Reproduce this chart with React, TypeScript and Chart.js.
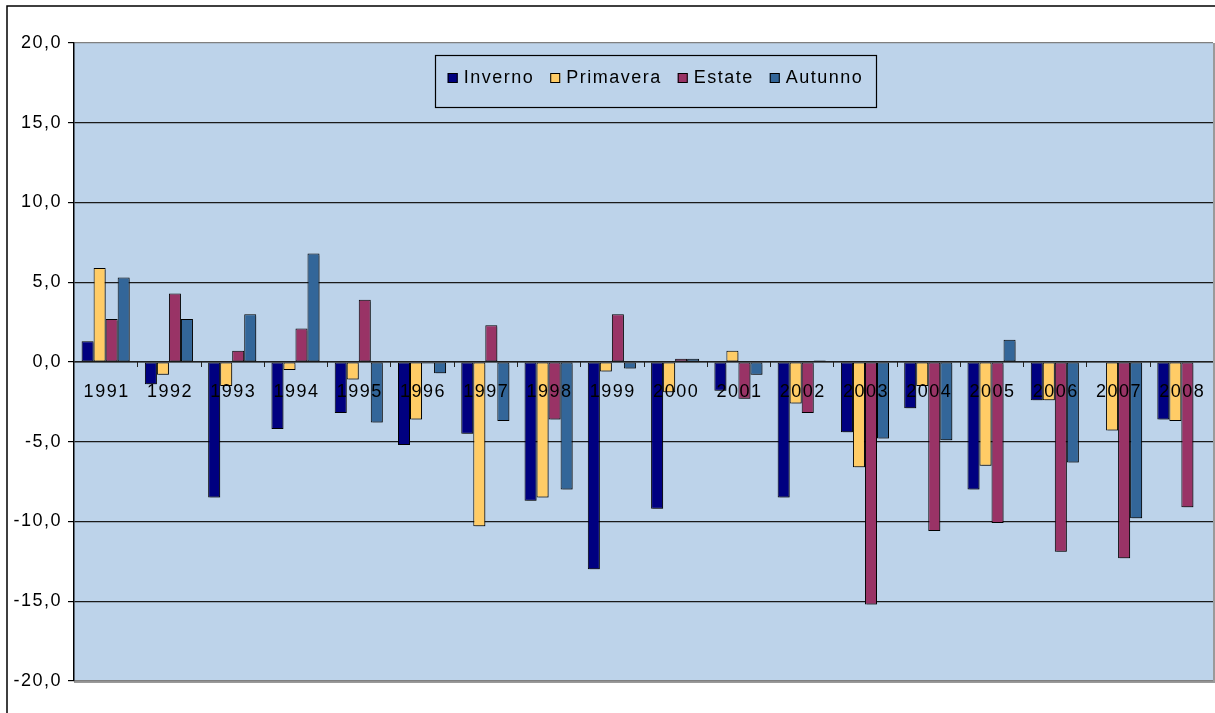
import React, { useEffect, useRef } from "react";
import { Chart, registerables } from "chart.js";

Chart.register(...registerables);

const years = ["1991","1992","1993","1994","1995","1996","1997","1998","1999","2000","2001","2002","2003","2004","2005","2006","2007","2008"];
const inverno = [1.3, -1.4, -8.5, -4.2, -3.2, -5.2, -4.5, -8.7, -13.0, -9.2, -1.8, -8.5, -4.4, -2.9, -8.0, -2.4, null, -3.6];
const primavera = [5.9, -0.8, -1.5, -0.5, -1.1, -3.6, -10.3, -8.5, -0.6, -1.9, 0.7, -2.6, -6.6, -1.5, -6.5, -2.4, -4.3, -3.7];
const estate = [2.7, 4.3, 0.7, 2.1, 3.9, -0.1, 2.3, -3.6, 3.0, 0.2, -2.3, -3.2, -15.2, -10.6, -10.1, -11.9, -12.3, -9.1];
const autunno = [5.3, 2.7, 3.0, 6.8, -3.8, -0.7, -3.7, -8.0, -0.4, 0.2, -0.8, 0.1, -4.8, -4.9, 1.4, -6.3, -9.8, null];
const seriesNames = ["Inverno", "Primavera", "Estate", "Autunno"];
const seriesColors = ["#000080", "#FFCC66", "#993366", "#336699"];
const yMin = -20;
const yMax = 20;
const yStep = 5;

const FONT = "'Liberation Sans', Arial, sans-serif";
const PLOT_BG = "#BDD3EA";

const framePlugin = {
  id: "framePlugin",
  beforeDraw(chart: any) {
    const { ctx, chartArea } = chart;
    ctx.save();
    ctx.fillStyle = "#ffffff";
    ctx.fillRect(0, 0, chart.width, chart.height);
    ctx.fillStyle = PLOT_BG;
    ctx.fillRect(chartArea.left, chartArea.top, chartArea.right - chartArea.left, chartArea.bottom - chartArea.top);
    ctx.strokeStyle = "#000";
    ctx.lineWidth = 1.5;
    ctx.beginPath();
    ctx.moveTo(7, chart.height + 5);
    ctx.lineTo(7, 6);
    ctx.lineTo(chart.width + 5, 6);
    ctx.stroke();
    ctx.strokeStyle = "#9a9a9a";
    ctx.lineWidth = 2;
    ctx.beginPath();
    ctx.moveTo(chartArea.right + 1, chartArea.top);
    ctx.lineTo(chartArea.right + 1, chartArea.bottom + 1);
    ctx.lineTo(chartArea.left, chartArea.bottom + 1);
    ctx.stroke();
    ctx.restore();
    (ctx as any).letterSpacing = "1.5px";
  },
  beforeDatasetsDraw(chart: any) {
    const ctx = chart.ctx;
    ctx.save();
    ctx.shadowColor = "rgba(0,0,0,0.28)";
    ctx.shadowOffsetX = 2;
    ctx.shadowOffsetY = 2;
    ctx.shadowBlur = 0;
  },
  afterDatasetsDraw(chart: any) {
    const ctx = chart.ctx;
    ctx.restore();
    const x = chart.scales.x;
    const y = chart.scales.y;
    const y0 = y.getPixelForValue(0);
    ctx.save();
    ctx.strokeStyle = "#222";
    ctx.lineWidth = 1.2;
    ctx.beginPath();
    ctx.moveTo(chart.chartArea.left, y0);
    ctx.lineTo(chart.chartArea.right, y0);
    ctx.stroke();
    ctx.lineWidth = 1;
    const n = years.length;
    const w = (chart.chartArea.right - chart.chartArea.left) / n;
    for (let i = 1; i < n; i++) {
      const px = Math.round(x.getPixelForValue(i) - w / 2) + 0.5;
      ctx.beginPath();
      ctx.moveTo(px, y0);
      ctx.lineTo(px, y0 + 5);
      ctx.stroke();
    }
    (ctx as any).letterSpacing = "1.5px";
    ctx.fillStyle = "#000";
    ctx.font = `18px ${FONT}`;
    ctx.textAlign = "center";
    ctx.textBaseline = "middle";
    years.forEach((yr, i) => {
      ctx.fillText(yr, x.getPixelForValue(i) + 1, y0 + 30);
    });
    // legend
    const lx = 435, ly = 55, lw = 441, lh = 52;
    ctx.strokeStyle = "#000";
    ctx.lineWidth = 1.2;
    ctx.strokeRect(lx + 0.5, ly + 0.5, lw, lh);
    ctx.textAlign = "left";
    ctx.font = `18px ${FONT}`;
    (ctx as any).letterSpacing = "1.5px";
    const cy = ly + lh / 2 - 3;
    const widths = seriesNames.map((s) => ctx.measureText(s).width);
    const sq = 10, gapSqText = 6, gapItem = 16;
    const total = widths.reduce((a, b) => a + b, 0) + seriesNames.length * (sq + gapSqText) + (seriesNames.length - 1) * gapItem;
    let cx = lx + (lw - total) / 2;
    seriesNames.forEach((s, i) => {
      ctx.fillStyle = seriesColors[i];
      ctx.fillRect(cx, cy - sq / 2, sq, sq);
      ctx.strokeStyle = "#000";
      ctx.lineWidth = 1;
      ctx.strokeRect(cx + 0.5, cy - sq / 2 + 0.5, sq - 1, sq - 1);
      cx += sq + gapSqText;
      ctx.fillStyle = "#000";
      ctx.fillText(s, cx, cy);
      cx += widths[i] + gapItem;
    });
    ctx.restore();
  },
};

export default function App() {
  const ref = useRef<HTMLCanvasElement | null>(null);
  useEffect(() => {
    if (!ref.current) return;
    const data = [inverno, primavera, estate, autunno];
    const chart = new Chart(ref.current, {
      type: "bar",
      data: {
        labels: years,
        datasets: seriesNames.map((name, i) => ({
          label: name,
          data: data[i] as any,
          backgroundColor: seriesColors[i],
          borderColor: "#000",
          borderWidth: 1,
          borderSkipped: false,
          categoryPercentage: 0.76,
          barPercentage: 1.0,
        })),
      },
      options: {
        responsive: false,
        animation: false,
        devicePixelRatio: 1,
        layout: { padding: { left: 0, top: 43, right: 2, bottom: 32 } },
        plugins: { legend: { display: false }, tooltip: { enabled: false } },
        scales: {
          x: { display: false, grid: { display: false }, offset: true },
          y: {
            min: yMin,
            max: yMax,
            afterFit: (scale: any) => { scale.width = 74; },
            ticks: {
              stepSize: yStep,
              color: "#000",
              padding: 6,
              font: { family: FONT, size: 18 },
              callback: (v: any) => Number(v).toFixed(1).replace(".", ","),
            },
            grid: {
              color: (c: any) => (c.tick && (c.tick.value === yMax || c.tick.value === yMin) ? "#808080" : "#1a1a1a"),
              lineWidth: 1.2,
              tickLength: 6,
              tickColor: "#000",
              drawTicks: true,
            },
            border: { display: true, color: "#000", width: 1.5 },
          },
        },
      },
      plugins: [framePlugin],
    });
    return () => chart.destroy();
  }, []);
  return (
    <div style={{ position: "absolute", left: 0, top: 0, width: 1215, height: 713, overflow: "hidden", background: "#fff" }}>
      <canvas ref={ref} width={1215} height={713} style={{ width: 1215, height: 713, display: "block" }} />
    </div>
  );
}
